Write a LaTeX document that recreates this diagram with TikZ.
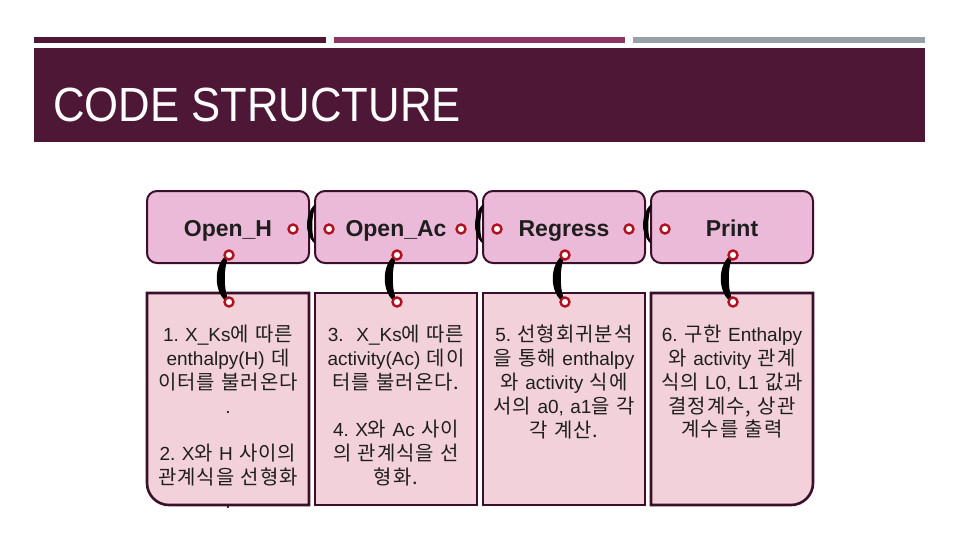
\documentclass[tikz,border=0pt]{standalone}
\usepackage{fontspec}
\setmainfont{Liberation Sans}
\newfontfamily\krfont[Scale=1.05,LetterSpace=5]{Noto Sans CJK KR}
\newfontfamily\titlefont[FakeStretch=0.91]{Liberation Sans}
\usetikzlibrary{calc,positioning}
\definecolor{csplum}{HTML}{4E1735}
\definecolor{csberry}{HTML}{8E3563}
\definecolor{csgrey}{HTML}{98A0A8}
\definecolor{csedge}{HTML}{3B0F2A}
\definecolor{cshead}{HTML}{EBBAD8}
\definecolor{csnote}{HTML}{F2D1DA}
\definecolor{csport}{HTML}{B01020}
\definecolor{csink}{HTML}{1E1E1E}
\newcommand{\kor}[1]{{\krfont #1}}
\pgfdeclarelayer{front}
\pgfsetlayers{main,front}
\frenchspacing

\begin{document}
\begin{tikzpicture}[x=1pt,y=-1pt,
    headbox/.style={rectangle,rounded corners=10pt,draw=csedge,fill=cshead,line width=2pt,minimum width=162pt,minimum height=72pt,outer sep=0pt,text=csink,text height=20pt,text depth=2pt,font=\fontsize{23}{26}\selectfont\bfseries},
    notebox/.style={rectangle,draw=csedge,fill=csnote,line width=2.6pt,minimum width=162pt,minimum height=212pt,outer sep=0pt},
    notetext/.style={text width=160pt,align=center,inner sep=0pt,text=csink,font=\fontsize{19}{23.8}\selectfont},
    port/.style={circle,draw=csport,fill=white,line width=2.4pt,minimum size=9pt,inner sep=0pt},
    link/.style={fill=black,draw=black,line width=2pt,line join=round}
  ]
    \useasboundingbox (0,0) rectangle (960,540);
    \fill[white] (0,0) rectangle (960,540);

    % banner
    \fill[csplum] (34,37) rectangle (326,43);
    \fill[csberry] (334,37) rectangle (625,43);
    \fill[csgrey] (633,37) rectangle (925,43);
    \fill[csplum] (34,48) rectangle (925,142);
    \node[anchor=west,inner sep=0pt,text=white,font=\titlefont\fontsize{48}{52}\selectfont] (ttl) at (53,105) {CODE STRUCTURE};

    % steps
    \node[headbox] (hH) at (228,227) {Open\_H};
    \node[headbox,right=6pt of hH] (hAc) {Open\_Ac};
    \node[headbox,right=6pt of hAc] (hReg) {Regress};
    \node[headbox,right=6pt of hReg] (hPr) {Print};

    \node[notebox,below=30pt of hH,draw=none,fill=none] (nH) {};
    \node[notebox,below=30pt of hAc] (nAc) {};
    \node[notebox,below=30pt of hReg] (nReg) {};
    \node[notebox,below=30pt of hPr,draw=none,fill=none] (nPr) {};
    \filldraw[draw=csedge,fill=csnote,line width=2.6pt] (nH.north west) -- (nH.north east) -- (nH.south east)
      -- ($(nH.south west)+(22,0)$) arc[start angle=90,end angle=180,radius=22] -- cycle;
    \filldraw[draw=csedge,fill=csnote,line width=2.6pt] (nPr.north west) -- (nPr.north east)
      -- ($(nPr.south east)+(0,-22)$) arc[start angle=0,end angle=90,radius=22] -- (nPr.south west) -- cycle;

    \node[notetext,below=32pt of nH.north] (tH) {1. X\_Ks\kor{에 따른}\\
      enthalpy(H) \kor{데}\\
      \kor{이터를 불러온다}\\
      .\\[23.8pt]
      2. X\kor{와} H \kor{사이의}\\
      \kor{관계식을 선형화}\\
      .};
    \node[notetext,below=32pt of nAc.north] (tAc) {3.\ \ X\_Ks\kor{에 따른}\\
      activity(Ac) \kor{데이}\\
      \kor{터를 불러온다.}\\[23.8pt]
      4. X\kor{와} Ac \kor{사이}\\
      \kor{의 관계식을 선}\\
      \kor{형화.}};
    \node[notetext,below=32pt of nReg.north] (tReg) {5. \kor{선형회귀분석}\\
      \kor{을 통해} enthalpy\\
      \kor{와} activity \kor{식에}\\
      \kor{서의} a0, a1\kor{을 각}\\
      \kor{각 계산.}};
    \node[notetext,below=32pt of nPr.north] (tPr) {6. \kor{구한} Enthalpy\\
      \kor{와} activity \kor{관계}\\
      \kor{식의} L0, L1 \kor{값과}\\
      \kor{결정계수, 상관}\\
      \kor{계수를 출력}};

    % ports
    \begin{pgfonlayer}{front}
      \node[port] (hHr) at ($(hH.east)+(-16,2)$) {};
      \node[port] (hAcl) at ($(hAc.west)+(14,2)$) {};
      \node[port] (hAcr) at ($(hAc.east)+(-16,2)$) {};
      \node[port] (hRegl) at ($(hReg.west)+(14,2)$) {};
      \node[port] (hRegr) at ($(hReg.east)+(-16,2)$) {};
      \node[port] (hPrl) at ($(hPr.west)+(14,2)$) {};
      \foreach \n in {H,Ac,Reg,Pr} {
        \node[port] (h\n b) at ($(h\n.south)+(1,-8)$) {};
        \node[port] (n\n t) at ($(n\n.north)+(1,9)$) {};
      }
    \end{pgfonlayer}

    % links
    \foreach \n in {H,Ac,Reg,Pr}
      \filldraw[link] (h\n b.center) .. controls +(-15,8) and +(-15,-8) .. (n\n t.center)
        .. controls +(-7,-8) and +(-7,8) .. (h\n b.center) -- cycle;
    \foreach \a/\b in {hHr/hAcl,hAcr/hRegl,hRegr/hPrl}
      \filldraw[link,line width=1.5pt] ($(\a)!.5!(\b)+(4,-24)$) .. controls +(-9,10) and +(-9,-10) .. ($(\a)!.5!(\b)+(3,13)$)
        .. controls +(-4,-10) and +(-4,10) .. ($(\a)!.5!(\b)+(4,-24)$) -- cycle;
  \end{tikzpicture}
\end{document}
